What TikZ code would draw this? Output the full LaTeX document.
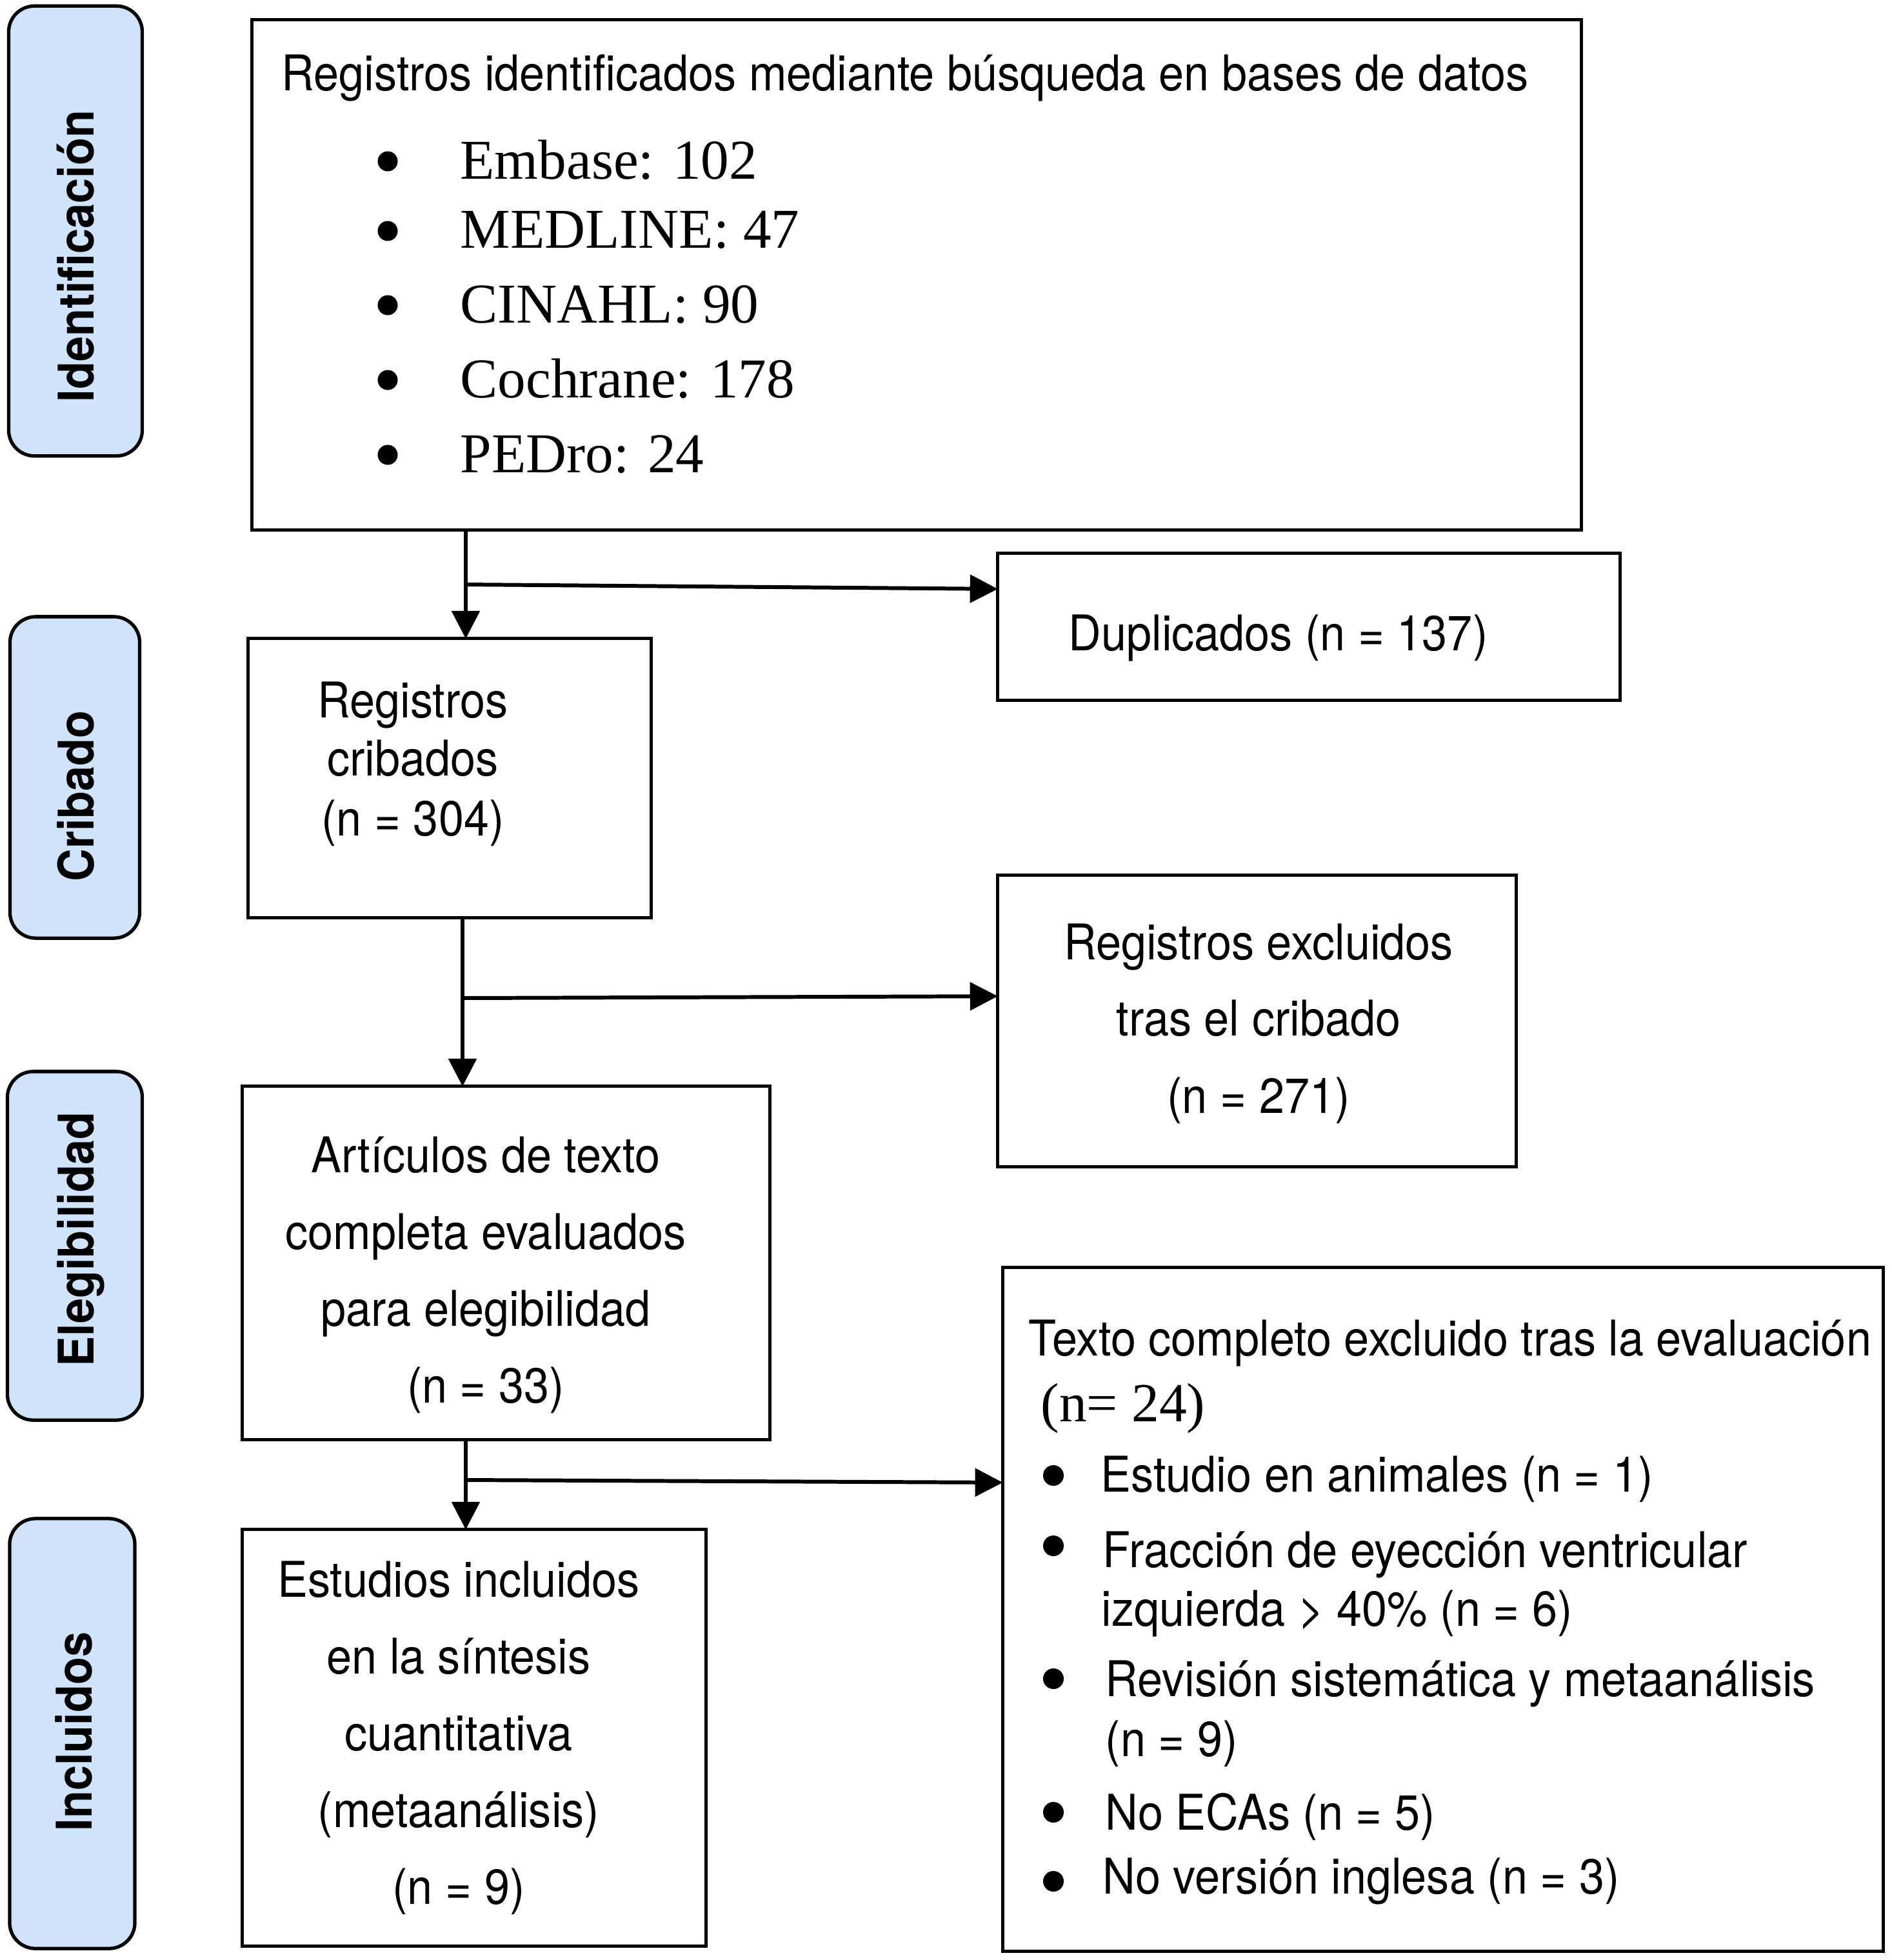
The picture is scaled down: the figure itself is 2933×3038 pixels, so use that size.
\documentclass[tikz,border=0pt]{standalone}
\usepackage{fontspec}
\setmainfont{TeX Gyre Heros}
\newfontfamily\hv[FakeStretch=0.92]{TeX Gyre Heros}
\newfontfamily\tms{Liberation Serif}
\usetikzlibrary{arrows.meta,calc}
\definecolor{sideblue}{HTML}{CFE3FA}
\newcommand\fsz{\fontsize{21.7pt}{26pt}\selectfont}
\newcommand\fst{\fontsize{24.8pt}{30pt}\selectfont}
\newcommand\fsn{\fontsize{24.3pt}{30pt}\selectfont}
\begin{document}
\begin{tikzpicture}[x=0.01cm,y=-0.01cm,
  mainbox/.style={draw, line width=1.4pt, inner sep=0pt, outer sep=0pt},
  sidebox/.style={draw, line width=1.5pt, fill=sideblue, rounded corners=0.4cm, inner sep=0pt, outer sep=0pt},
  sidelab/.style={font=\hv\bfseries\fsz, rotate=90, inner sep=0pt, anchor=base},
  txl/.style={font=\hv\fsz, inner sep=0pt, anchor=base west},
  txc/.style={font=\hv\fsz, inner sep=0pt, anchor=base},
  serl/.style={font=\tms\fst, inner sep=0pt, anchor=base west},
  bull/.style={circle, fill=black, inner sep=0pt, minimum size=0.31cm},
  arr/.style={line width=1.7pt, -{Triangle[length=0.43cm,width=0.43cm]}}]
\path[use as bounding box, fill=white] (0,0) rectangle (2933,3038);

% stage boxes
\node[sidebox, minimum width=2.07cm, minimum height=6.97cm] (s1) at (117,358) {};
\node[sidebox, minimum width=2.01cm, minimum height=4.98cm] (s2) at (116,1205) {};
\node[sidebox, minimum width=2.09cm, minimum height=5.40cm] (s3) at (116,1931) {};
\node[sidebox, minimum width=1.94cm, minimum height=6.66cm] (s4) at (112,2687) {};
\node[sidelab] (lab1) at (146,397) {Identificación};
\node[sidelab] (lab2) at (146,1234) {Cribado};
\node[sidelab] (lab3) at (146,1921) {Elegibilidad};
\node[sidelab] (lab4) at (142,2684) {Incluidos};

% main boxes
\node[mainbox, minimum width=20.60cm, minimum height=7.90cm] (top) at (1421,426) {};
\node[mainbox, minimum width=9.64cm, minimum height=2.27cm] (dup) at (2029,971.5) {};
\node[mainbox, minimum width=6.24cm, minimum height=4.32cm] (crib) at (697,1206) {};
\node[mainbox, minimum width=8.03cm, minimum height=4.51cm] (excl) at (1948.5,1582.5) {};
\node[mainbox, minimum width=8.17cm, minimum height=5.47cm] (art) at (784.5,1957.5) {};
\node[mainbox, minimum width=13.64cm, minimum height=10.59cm] (full) at (2237,2494.5) {};
\node[mainbox, minimum width=7.18cm, minimum height=6.45cm] (incl) at (735,2693.5) {};

% top box text
\node[txl] (toptitle) at (436,140) {Registros identificados mediante búsqueda en bases de datos};
\node[bull] (b1) at (601,250) {};
\node[bull] (b2) at (601,358) {};
\node[bull] (b3) at (601,473) {};
\node[bull] (b4) at (601,589) {};
\node[bull] (b5) at (601,705) {};
\node[serl] (i1) at (713,277) {Embase: 102};
\node[serl] (i2) at (713,384) {MEDLINE: 47};
\node[serl] (i3) at (713,500) {CINAHL: 90};
\node[serl] (i4) at (713,616) {Cochrane: 178};
\node[serl] (i5) at (713,732) {PEDro: 24};

% duplicados
\node[txl] (duptxt) at (1656,1008) {Duplicados (n = 137)};

% cribados
\node[txc] (cr1) at (640,1112) {Registros};
\node[txc] (cr2) at (640,1202) {cribados};
\node[txc] (cr3) at (640,1295) {(n = 304)};

% excluidos
\node[txc] (ex1) at (1951,1487) {Registros excluidos};
\node[txc] (ex2) at (1951,1605) {tras el cribado};
\node[txc] (ex3) at (1951,1725) {(n = 271)};

% articulos
\node[txc] (ar1) at (753,1817) {Artículos de texto};
\node[txc] (ar2) at (753,1936) {completa evaluados};
\node[txc] (ar3) at (753,2055) {para elegibilidad};
\node[txc] (ar4) at (753,2174) {(n = 33)};

% incluidos
\node[txc] (in1) at (711,2475) {Estudios incluidos};
\node[txc] (in2) at (711,2594) {en la síntesis};
\node[txc] (in3) at (711,2713) {cuantitativa};
\node[txc] (in4) at (711,2832) {(metaanálisis)};
\node[txc] (in5) at (711,2951) {(n = 9)};

% full text excluded
\node[txl] (fu0) at (1594,2101) {Texto completo excluido tras la evaluación};
\node[font=\tms\fsn, inner sep=0pt, anchor=base west] (fun) at (1613,2203) {(n= 24)};
\node[bull, minimum size=0.32cm] (fb1) at (1633,2287) {};
\node[bull, minimum size=0.32cm] (fb2) at (1633,2396) {};
\node[bull, minimum size=0.32cm] (fb3) at (1633,2602) {};
\node[bull, minimum size=0.32cm] (fb4) at (1633,2809) {};
\node[bull, minimum size=0.32cm] (fb5) at (1633,2916) {};
\node[txl] (fu1) at (1706,2312) {Estudio en animales (n = 1)};
\node[txl] (fu2) at (1709,2429) {Fracción de eyección ventricular};
\node[txl] (fu3) at (1707,2520) {izquierda > 40\% (n = 6)};
\node[txl] (fu4) at (1713,2629) {Revisión sistemática y metaanálisis};
\node[txl] (fu5) at (1713,2722) {(n = 9)};
\node[txl] (fu6) at (1713,2836) {No ECAs (n = 5)};
\node[txl] (fu7) at (1709,2935) {No versión inglesa (n = 3)};

% connectors
\coordinate (c1) at (722,906);
\coordinate (c2) at (717,1547);
\coordinate (c3) at (722,2294);
\draw[arr] (top.south -| c1) -- (crib.north -| c1);
\draw[arr] (c1) -- ($(dup.north west)!0.242!(dup.south west)$);
\draw[arr] (crib.south -| c2) -- (art.north -| c2);
\draw[arr] (c2) -- ($(excl.north west)!0.415!(excl.south west)$);
\draw[arr] (art.south -| c3) -- (incl.north -| c3);
\draw[arr] (c3) -- ($(full.north west)!0.3145!(full.south west)$);
\end{tikzpicture}
\end{document}
